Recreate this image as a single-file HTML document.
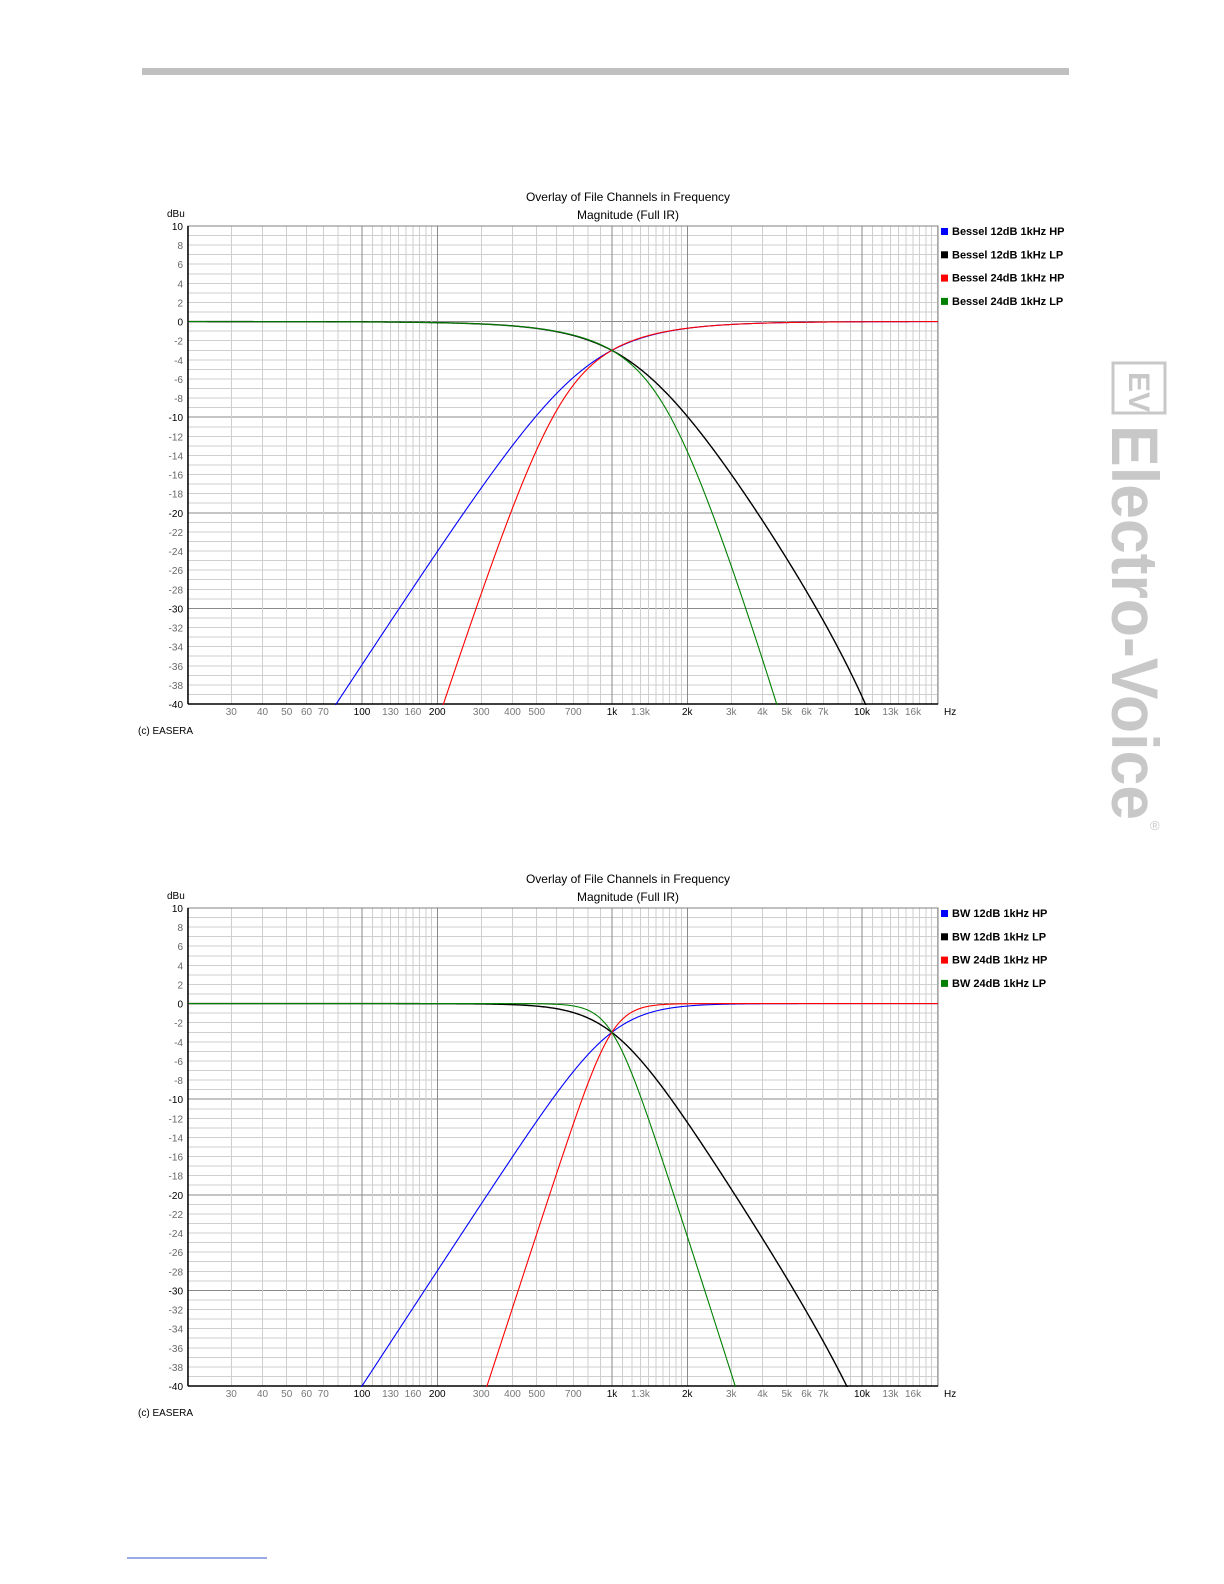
<!DOCTYPE html>
<html><head><meta charset="utf-8"><style>
html,body{margin:0;padding:0;width:1224px;height:1584px;overflow:hidden;background:#fff}
body{position:relative;font-family:"Liberation Sans",Arial,sans-serif}
svg{position:absolute;left:0;top:0;display:block;overflow:hidden}
</style></head><body>
<svg id="s" width="1224" height="1584" viewBox="0 0 1224 1584" xmlns="http://www.w3.org/2000/svg">
<rect x="142" y="68" width="927" height="7" fill="#c0c0c0"/>
<line x1="127" y1="1558" x2="267" y2="1558" stroke="#3355cc" stroke-width="1"/>
<g transform="translate(1112,362)">
<rect x="1" y="1" width="52" height="50" fill="none" stroke="#c8c8c8" stroke-width="3"/>
<text x="0" y="0" transform="translate(17,10) rotate(90)" font-size="30" font-weight="bold" fill="#c8c8c8">EV</text>
</g>
<text transform="translate(1112,425) rotate(90)" font-size="66" font-weight="bold" fill="#c8c8c8" textLength="395" lengthAdjust="spacingAndGlyphs">Electro-Voice</text>
<text x="1150" y="830" font-size="13" fill="#c8c8c8">®</text>
</svg>
<script>
const S=document.getElementById('s'),NS='http://www.w3.org/2000/svg';
function el(t,a,txt){const e=document.createElementNS(NS,t);for(const k in a)e.setAttribute(k,a[k]);if(txt!=null)e.textContent=txt;S.appendChild(e);return e;}
const X0=188,X1=938;
function fx(f){return 612+250*Math.log10(f/1000);}
function polyMag(c,w){let re=0,im=0;
 const n=c.length-1;for(let i=0;i<=n;i++){const p=n-i;const m=Math.pow(w,p)*c[i];const r=p%4;if(r==0)re+=m;else if(r==1)im+=m;else if(r==2)re-=m;else im-=m;}return Math.hypot(re,im);}
const fs=44100;
function warp(f){return fs/Math.PI*Math.tan(Math.PI*f/fs);}
const filt={
 b2:{c:[1,3,3],k:3,sc:1.3617},
 b4:{c:[1,10,45,105,105],k:105,sc:2.1139},
 w2:{c:[1,Math.SQRT2,1],k:1,sc:1},
 w4:{c:[1,2.6131,3.4142,2.6131,1],k:1,sc:1}
};
function lp(F,f){const w=warp(f)/1000*F.sc;return 20*Math.log10(F.k/polyMag(F.c,w));}
function hp(F,f){const w=1000/warp(f)*F.sc;return 20*Math.log10(F.k/polyMag(F.c,w));}
function chart(T,names,t2,b2){
 const B=T+478,py=d=>T+(10-d)*9.56;
 for(let d=10;d>=-40;d--){const maj=(d%10==0);el('line',{x1:X0,x2:X1,y1:py(d),y2:py(d),stroke:maj?'#8a8a8a':'#cfcfcf','stroke-width':1,'shape-rendering':'crispEdges'});}
 const fr=[];for(const dec of [10,100,1000,10000]){for(let m=1;m<10;m+=(m<2?0.1:1)){const f=Math.round(m*dec*10)/10;if(f>=20&&f<=20000)fr.push(f);}}
 for(const f of fr){const maj=[100,200,1000,2000,10000].includes(Math.round(f));el('line',{x1:fx(f),x2:fx(f),y1:T,y2:B,stroke:maj?'#8a8a8a':'#cfcfcf','stroke-width':1,'shape-rendering':'crispEdges'});}
 el('rect',{x:X0,y:T,width:X1-X0,height:B-T,fill:'none',stroke:'#808080','stroke-width':1,'shape-rendering':'crispEdges'});
 el('line',{x1:X0,x2:X0,y1:T,y2:B,stroke:'#000','stroke-width':1.5});
 el('line',{x1:X0,x2:X1,y1:B,y2:B,stroke:'#000','stroke-width':1.5});
 for(let d=10;d>=-40;d-=2){const b=(d%10==0);el('text',{x:183,y:py(d)+4,'text-anchor':'end','font-size':10,fill:b?'#000':'#666'},String(d));}
 el('text',{x:167,y:T-9,'font-size':10,fill:'#000'},'dBu');
 const xl=[[30,'30'],[40,'40'],[50,'50'],[60,'60'],[70,'70'],[100,'100',1],[130,'130'],[160,'160'],[200,'200',1],[300,'300'],[400,'400'],[500,'500'],[700,'700'],[1000,'1k',1],[1300,'1.3k'],[2000,'2k',1],[3000,'3k'],[4000,'4k'],[5000,'5k'],[6000,'6k'],[7000,'7k'],[10000,'10k',1],[13000,'13k'],[16000,'16k']];
 for(const [f,l,b] of xl)el('text',{x:fx(f),y:B+11,'text-anchor':'middle','font-size':10,fill:b?'#000':'#777'},l);
 el('text',{x:944,y:B+11,'font-size':10,fill:'#000'},'Hz');
 el('text',{x:138,y:B+30,'font-size':10,fill:'#000'},'(c) EASERA');
 el('text',{x:628,y:T-25,'text-anchor':'middle','font-size':12,fill:'#000'},'Overlay of File Channels in Frequency');
 el('text',{x:628,y:T-7,'text-anchor':'middle','font-size':12,fill:'#000'},'Magnitude (Full IR)');
 const cols=['#0000ff','#000000','#ff0000','#008000'];
 names.forEach((n,i)=>{const y=T+6+i*23.3;el('rect',{x:941,y:y-4,width:7,height:7,fill:cols[i]});el('text',{x:952,y:y+3,'font-size':11,'font-weight':'bold',fill:'#000'},n);});
 const defs=[[hp,t2,0],[lp,t2,1],[hp,b2,2],[lp,b2,3]];
 const cp=document.createElementNS(NS,'clipPath');cp.setAttribute('id','c'+T);const r=document.createElementNS(NS,'rect');r.setAttribute('x',X0);r.setAttribute('y',T);r.setAttribute('width',X1-X0);r.setAttribute('height',B-T+1);cp.appendChild(r);S.appendChild(cp);
 for(const [fn,F,i] of defs){let d='';for(let x=X0+1;x<=X1;x+=1){const f=1000*Math.pow(10,(x-612)/250);let v=fn(F,f);if(v<-41)v=-41;d+=(d?'L':'M')+x+' '+py(v).toFixed(2);}
  el('path',{d:d,fill:'none',stroke:cols[i],'stroke-width':i==1?1.4:1.1,'clip-path':'url(#c'+T+')'});}
}
chart(226,['Bessel 12dB 1kHz HP','Bessel 12dB 1kHz LP','Bessel 24dB 1kHz HP','Bessel 24dB 1kHz LP'],filt.b2,filt.b4);
chart(908,['BW 12dB 1kHz HP','BW 12dB 1kHz LP','BW 24dB 1kHz HP','BW 24dB 1kHz LP'],filt.w2,filt.w4);
</script>
</body></html>
